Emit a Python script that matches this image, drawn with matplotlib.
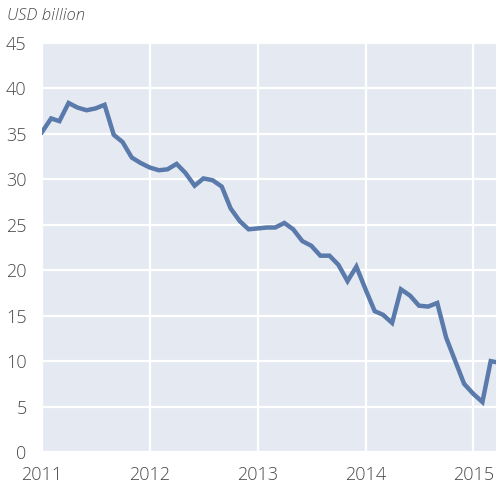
import numpy as np
import pandas as pd
import matplotlib
matplotlib.use("Agg")
import matplotlib.pyplot as plt
import matplotlib.dates as mdates

# Monthly series, Jan 2011 onwards (USD billion)
months = pd.date_range("2011-01-01", periods=52, freq="MS")
values = [35.2, 36.7, 36.4, 38.4, 37.9, 37.6, 37.8, 38.2, 34.9, 34.1, 32.4, 31.8,
          31.3, 31.0, 31.1, 31.7, 30.7, 29.3, 30.1, 29.9, 29.2, 26.8, 25.4, 24.5,
          24.6, 24.7, 24.7, 25.2, 24.5, 23.2, 22.7, 21.6, 21.6, 20.6, 18.8, 20.4,
          17.9, 15.5, 15.1, 14.2, 17.9, 17.2, 16.1, 16.0, 16.4, 12.6, 10.0, 7.5,
          6.4, 5.5, 10.0, 9.8]
year_labels = ["2011", "2012", "2013", "2014", "2015"]
y_ticks = [0, 5, 10, 15, 20, 25, 30, 35, 40, 45]

text_col = "#4a4a4a"
plt.rcParams["font.family"] = ["Open Sans", "DejaVu Sans"]
plt.rcParams["font.weight"] = "light"

fig = plt.figure(figsize=(4.96, 4.83), dpi=100)
ax = fig.add_axes([42 / 496, 31 / 483, 1 - 42 / 496, 409 / 483])
ax.set_facecolor("#E5EAF2")

ax.plot(months, values, color="#5A7AAB", lw=3.2, solid_joinstyle="miter", zorder=3)

ax.set_ylim(0, 45)
ax.set_yticks(y_ticks)
ax.set_xlim(pd.Timestamp("2011-01-01"), pd.Timestamp("2015-03-19"))
year_ticks = [pd.Timestamp(f"{y}-01-01") for y in year_labels]
ax.set_xticks(year_ticks)
ax.set_xticklabels(year_labels)

ax.grid(True, color="white", lw=1.6)
ax.set_axisbelow(True)
for s in ax.spines.values():
    s.set_visible(False)
ax.tick_params(axis="both", length=0, labelsize=13, labelcolor=text_col)
ax.tick_params(axis="y", pad=11)
ax.tick_params(axis="x", pad=10)

fig.text(7 / 496, 1 - 16 / 483, "USD billion", style="italic", fontsize=12,
         color=text_col, va="center", ha="left")

fig.savefig("out.png", dpi=100)
